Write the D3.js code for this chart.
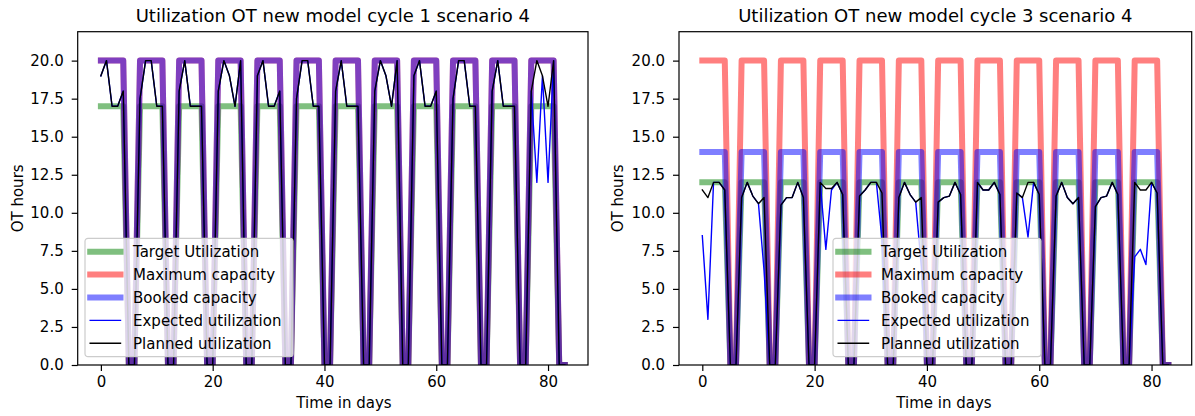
<!DOCTYPE html>
<html>
<head>
<meta charset="utf-8">
<script src="https://cdn.jsdelivr.net/npm/d3@7"></script>
<style>
  body { margin: 0; background: #fff; }
  text { font-family: "DejaVu Sans", sans-serif; fill: #000; }
</style>
</head>
<body>
<svg id="chart" width="1195" height="416"></svg>
<script>
// day index 0..83
var days = d3.range(0, 84);

// ---- cycle 1 ----
var target1 = [
  17,17,17,17,17,0,0, 17,17,17,17,17,0,0, 17,17,17,17,17,0,0, 17,17,17,17,17,0,0,
  17,17,17,17,17,0,0, 17,17,17,17,17,0,0, 17,17,17,17,17,0,0, 17,17,17,17,17,0,0,
  17,17,17,17,17,0,0, 17,17,17,17,17,0,0, 17,17,17,17,17,0,0, 17,17,17,17,17,0,0];
var maxCap1 = [
  20,20,20,20,20,0,0, 20,20,20,20,20,0,0, 20,20,20,20,20,0,0, 20,20,20,20,20,0,0,
  20,20,20,20,20,0,0, 20,20,20,20,20,0,0, 20,20,20,20,20,0,0, 20,20,20,20,20,0,0,
  20,20,20,20,20,0,0, 20,20,20,20,20,0,0, 20,20,20,20,20,0,0, 20,20,20,20,20,0,0];
var booked1 = [
  20,20,20,20,20,0,0, 20,20,20,20,20,0,0, 20,20,20,20,20,0,0, 20,20,20,20,20,0,0,
  20,20,20,20,20,0,0, 20,20,20,20,20,0,0, 20,20,20,20,20,0,0, 20,20,20,20,20,0,0,
  20,20,20,20,20,0,0, 20,20,20,20,20,0,0, 20,20,20,20,20,0,0, 20,20,20,20,20,0,0];
var expected1 = [
  19,20,17,17,18,0,0, 17.5,20,20,17,17,0,0, 18,20,17,17,17,0,0, 18,20,19,17,20,0,0,
  19,20,17,17,18,0,0, 17.5,20,20,17,17,0,0, 18,20,17,17,17,0,0, 18,20,19,17,20,0,0,
  19,20,17,17,18,0,0, 17.5,20,20,17,17,0,0, 18,20,17,17,17,0,0, 18,12,19,12,20,0,0];
var planned1 = [
  19,20,17,17,18,0,0, 17.5,20,20,17,17,0,0, 18,20,17,17,17,0,0, 18,20,19,17,20,0,0,
  19,20,17,17,18,0,0, 17.5,20,20,17,17,0,0, 18,20,17,17,17,0,0, 18,20,19,17,20,0,0,
  19,20,17,17,18,0,0, 17.5,20,20,17,17,0,0, 18,20,17,17,17,0,0, 18,20,19,17,20,0,0];

// ---- cycle 3 ----
var target2 = [
  12,12,12,12,12,0,0, 12,12,12,12,12,0,0, 12,12,12,12,12,0,0, 12,12,12,12,12,0,0,
  12,12,12,12,12,0,0, 12,12,12,12,12,0,0, 12,12,12,12,12,0,0, 12,12,12,12,12,0,0,
  12,12,12,12,12,0,0, 12,12,12,12,12,0,0, 12,12,12,12,12,0,0, 12,12,12,12,12,0,0];
var maxCap2 = [
  20,20,20,20,20,0,0, 20,20,20,20,20,0,0, 20,20,20,20,20,0,0, 20,20,20,20,20,0,0,
  20,20,20,20,20,0,0, 20,20,20,20,20,0,0, 20,20,20,20,20,0,0, 20,20,20,20,20,0,0,
  20,20,20,20,20,0,0, 20,20,20,20,20,0,0, 20,20,20,20,20,0,0, 20,20,20,20,20,0,0];
var booked2 = [
  14,14,14,14,14,0,0, 14,14,14,14,14,0,0, 14,14,14,14,14,0,0, 14,14,14,14,14,0,0,
  14,14,14,14,14,0,0, 14,14,14,14,14,0,0, 14,14,14,14,14,0,0, 14,14,14,14,14,0,0,
  14,14,14,14,14,0,0, 14,14,14,14,14,0,0, 14,14,14,14,14,0,0, 14,14,14,14,14,0,0];
var expected2 = [
  8.5,3,12,12,11.5,0,0, 11,12,11.1,10.6,6.2,0,0, 10.5,11,11,12,11,0,0, 12,7.6,11.5,12,11.2,0,0,
  11.1,11.5,12,12,8.2,0,0, 11,12,11.2,10.7,6.5,0,0, 10.7,11,11.1,12,11.2,0,0, 12,11.5,11.5,12,11.2,0,0,
  11.3,11,8.4,12,11.2,0,0, 11.1,12,11,10.6,11,0,0, 10.4,11,11.1,12,11.2,0,0, 7.1,7.6,6.6,12,11.3,0,0];
var planned2 = [
  11.5,11,12,12,11.5,0,0, 11,12,11.1,10.6,11,0,0, 10.5,11,11,12,11,0,0, 12,11.6,11.6,12,11.2,0,0,
  11.1,11.5,12,12,11.3,0,0, 11,12,11.2,10.7,11,0,0, 10.7,11,11.1,12,11.2,0,0, 12,11.5,11.5,12,11.2,0,0,
  11.3,11,12,12,11.2,0,0, 11.1,12,11,10.6,11,0,0, 10.4,11,11.1,12,11.2,0,0, 12,11.5,11.5,12,11.3,0,0];

var titles = ["Utilization OT new model cycle 1 scenario 4", "Utilization OT new model cycle 3 scenario 4"];
var seriesNames = ["Target Utilization", "Maximum capacity", "Booked capacity", "Expected utilization", "Planned utilization"];
var seriesColors = ["#008000", "#ff0000", "#0000ff", "#0000ff", "#000000"];
var seriesWidths = [6, 6, 6, 1.4, 1.4];
var seriesAlpha = [0.5, 0.5, 0.5, 1, 1];
var yTicks = [0, 2.5, 5, 7.5, 10, 12.5, 15, 17.5, 20];
var xTicks = [0, 20, 40, 60, 80];

var panels = [
  {x0: 77.7, x1: 588, data: [target1, maxCap1, booked1, expected1, planned1], legendX: 85, xlabelX: 344, ylabelX: 23},
  {x0: 679, x1: 1191.7, data: [target2, maxCap2, booked2, expected2, planned2], legendX: 833, xlabelX: 944, ylabelX: 623}
];
var plotTop = 31.7, plotBottom = 365;
var fs = 15;

var svg = d3.select("#chart");

panels.forEach(function(p, pi) {
  var x = d3.scaleLinear().domain([-4.15, 87.15]).range([p.x0, p.x1]);
  var y = d3.scaleLinear().domain([0, 21.9]).range([plotBottom, plotTop]);
  var g = svg.append("g");

  g.append("clipPath").attr("id", "clip" + pi)
    .append("rect").attr("x", p.x0).attr("y", plotTop)
    .attr("width", p.x1 - p.x0).attr("height", plotBottom - plotTop);

  var line = d3.line().x(function(d, i) { return x(days[i]); }).y(function(d) { return y(d); });

  var lines = g.append("g").attr("clip-path", "url(#clip" + pi + ")");
  p.data.forEach(function(s, si) {
    lines.append("path")
      .attr("d", line(s))
      .attr("fill", "none")
      .attr("stroke", seriesColors[si])
      .attr("stroke-opacity", seriesAlpha[si])
      .attr("stroke-width", seriesWidths[si])
      .attr("stroke-linejoin", "round")
      .attr("stroke-linecap", "square");
  });

  // frame
  g.append("rect").attr("x", p.x0).attr("y", plotTop)
    .attr("width", p.x1 - p.x0).attr("height", plotBottom - plotTop)
    .attr("fill", "none").attr("stroke", "#000").attr("stroke-width", 1.2);

  // axes
  var xa = g.append("g").attr("transform", "translate(0," + plotBottom + ")")
    .call(d3.axisBottom(x).tickValues(xTicks).tickFormat(d3.format("d")).tickSize(6).tickPadding(5));
  var ya = g.append("g").attr("transform", "translate(" + p.x0 + ",0)")
    .call(d3.axisLeft(y).tickValues(yTicks).tickFormat(d3.format(".1f")).tickSize(6).tickPadding(8));
  [xa, ya].forEach(function(a) {
    a.select(".domain").remove();
    a.selectAll(".tick line").attr("stroke", "#000").attr("stroke-width", 1.2);
    a.selectAll(".tick text").attr("font-size", fs).attr("font-family", "DejaVu Sans").attr("fill", "#000");
  });

  g.append("text").attr("x", (p.x0 + p.x1) / 2).attr("y", 22)
    .attr("text-anchor", "middle").attr("font-size", 18).text(titles[pi]);
  g.append("text").attr("x", p.xlabelX).attr("y", 408)
    .attr("text-anchor", "middle").attr("font-size", fs).text("Time in days");
  g.append("text").attr("transform", "translate(" + p.ylabelX + "," + ((plotTop + plotBottom) / 2) + ") rotate(-90)")
    .attr("text-anchor", "middle").attr("font-size", fs).text("OT hours");

  // legend
  var lg = g.append("g").attr("transform", "translate(" + p.legendX + ",238.3)");
  lg.append("rect").attr("width", 208).attr("height", 118.4).attr("rx", 3)
    .attr("fill", "#fff").attr("fill-opacity", 0.8).attr("stroke", "#cccccc").attr("stroke-width", 1.2);
  seriesNames.forEach(function(name, si) {
    var cy = 13.4 + si * 22.9;
    lg.append("line").attr("x1", 5.2).attr("x2", 35.5).attr("y1", cy).attr("y2", cy)
      .attr("stroke", seriesColors[si]).attr("stroke-opacity", seriesAlpha[si])
      .attr("stroke-width", seriesWidths[si]).attr("stroke-linecap", "square");
    lg.append("text").attr("x", 48).attr("y", cy + 0.36 * fs).attr("font-size", fs).text(name);
  });
});
</script>
</body>
</html>
